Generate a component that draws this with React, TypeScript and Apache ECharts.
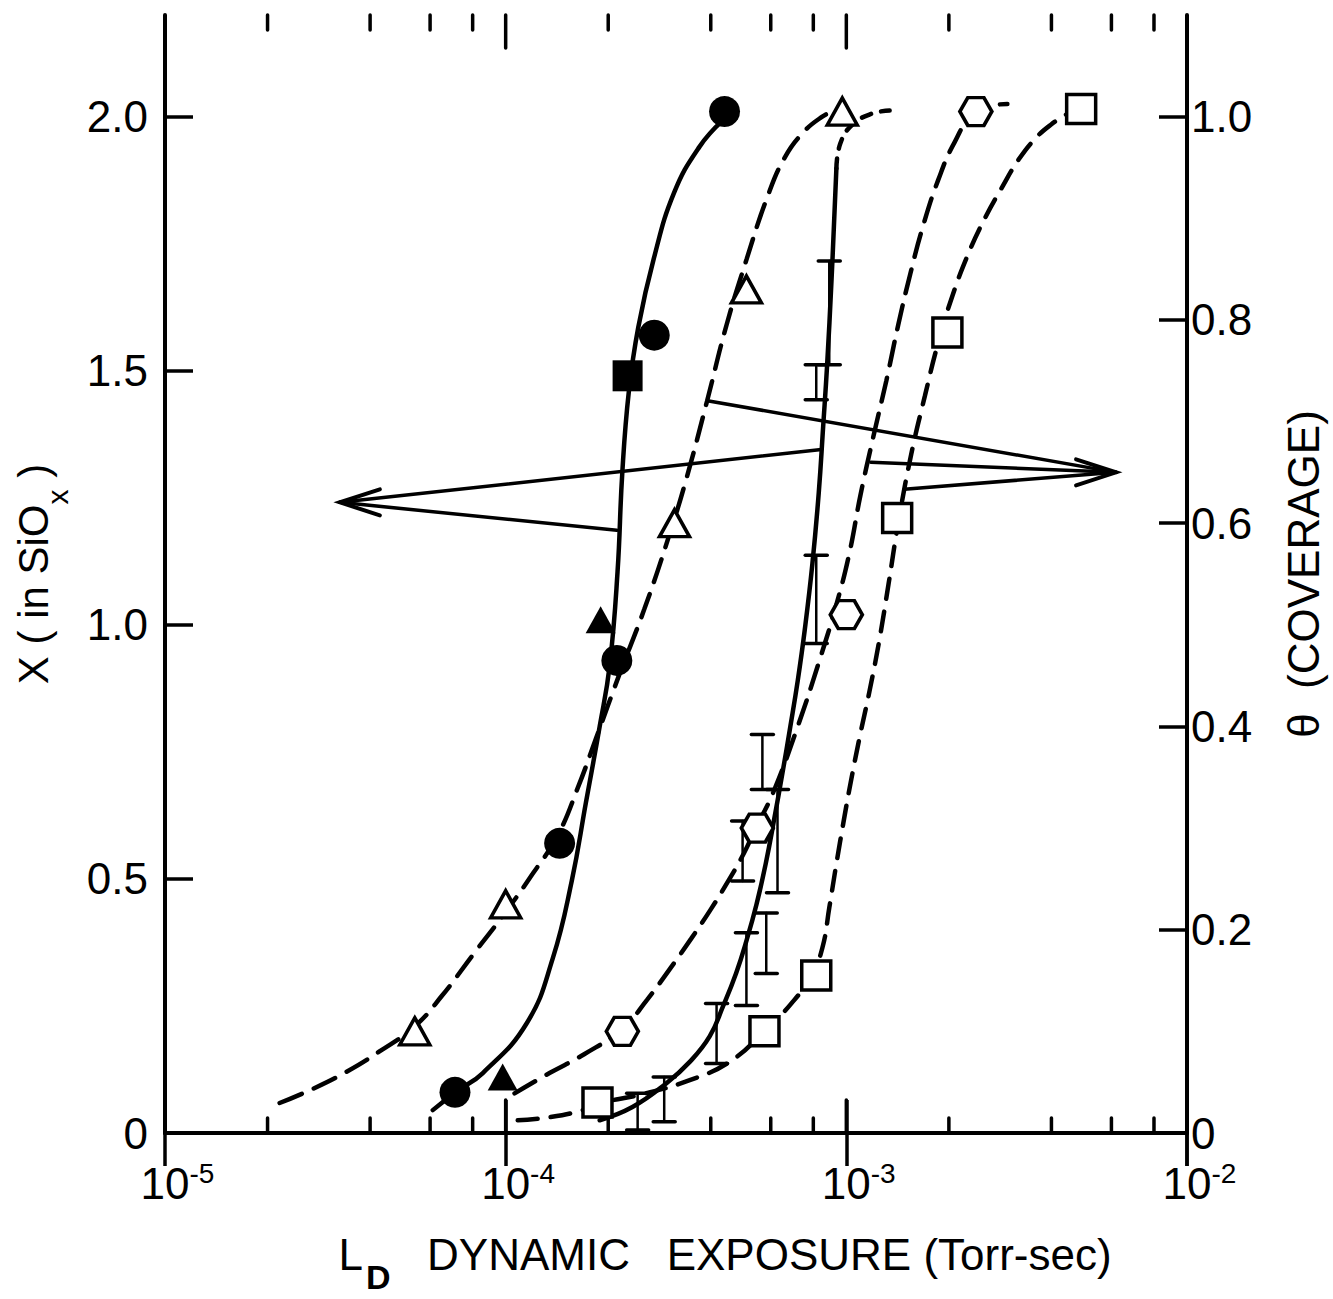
import React, { useEffect, useRef } from "react";
import * as echarts from "echarts";

// ---------- axes ----------
const xRange = [1e-5, 1e-2];
const xMajorTicks = [1e-4, 1e-3];
const xMinorTicks = [2e-5, 4e-5, 6e-5, 8e-5, 2e-4, 4e-4, 6e-4, 8e-4, 2e-3, 4e-3, 6e-3, 8e-3];
const leftRange = [0, 2.2];
const leftStep = 0.5;
const leftLabelMax = 2.0;
const rightRange = [0, 1.1];
const rightStep = 0.2;
const rightLabelMax = 1.0;

// ---------- measured points: [exposure (Torr-sec), x in SiOx] ----------
const filledCircles = [
  [7.1e-5, 0.08],
  [1.44e-4, 0.57],
  [2.12e-4, 0.93],
  [2.73e-4, 1.57],
  [4.39e-4, 2.01],
];
const filledSquares = [[2.28e-4, 1.49]];
const filledTriangles = [
  [9.8e-5, 0.11],
  [1.9e-4, 1.01],
];
const openTriangles = [
  [5.41e-5, 0.2],
  [1.0e-4, 0.45],
  [3.13e-4, 1.2],
  [5.09e-4, 1.66],
  [9.73e-4, 2.01],
];
const openHexagons = [
  [2.2e-4, 0.2],
  [5.48e-4, 0.6],
  [1.0e-3, 1.02],
  [2.4e-3, 2.01],
];
const openSquares = [
  [1.86e-4, 0.06],
  [5.75e-4, 0.2],
  [8.16e-4, 0.31],
  [1.41e-3, 1.21],
  [1.98e-3, 1.575],
  [4.89e-3, 2.015],
];

// error bars: [exposure, low, high]
const errorBars = [
  [2.44e-4, 0.006, 0.078],
  [2.92e-4, 0.022, 0.11],
  [4.16e-4, 0.137, 0.255],
  [4.96e-4, 0.496, 0.614],
  [5.09e-4, 0.251, 0.394],
  [5.67e-4, 0.676, 0.784],
  [5.82e-4, 0.314, 0.433],
  [6.28e-4, 0.473, 0.676],
  [8.16e-4, 0.963, 1.137],
  [8.16e-4, 1.443, 1.512],
  [8.91e-4, 1.512, 1.716],
];

// ---------- drawn curves ----------
const curveFilled = [
  [6.11e-5, 0.045], [7.18e-5, 0.082], [8.57e-5, 0.118], [1.153e-4, 0.216],
  [1.374e-4, 0.343], [1.563e-4, 0.496], [1.72e-4, 0.65],
  [1.888e-4, 0.8], [2.02e-4, 0.92], [2.13e-4, 1.104],
  [2.2e-4, 1.3], [2.3e-4, 1.46], [2.45e-4, 1.585],
  [2.72e-4, 1.72], [3.12e-4, 1.85], [3.7e-4, 1.94], [4.33e-4, 1.992],
];
const curveTriangles = [
  [2.17e-5, 0.059], [2.7e-5, 0.086], [3.4e-5, 0.12], [4.25e-5, 0.16],
  [5.41e-5, 0.21], [6.5e-5, 0.27], [8.0e-5, 0.35], [1.0e-4, 0.435],
  [1.2e-4, 0.51], [1.42e-4, 0.585], [1.63e-4, 0.68], [1.85e-4, 0.78],
  [2.15e-4, 0.9], [2.55e-4, 1.03], [3.0e-4, 1.17], [3.4e-4, 1.29],
  [3.9e-4, 1.44], [4.45e-4, 1.59], [5.1e-4, 1.72], [5.85e-4, 1.84],
  [6.6e-4, 1.92], [7.5e-4, 1.97], [8.5e-4, 2.0], [9.22e-4, 2.012],
];
const curveHexagons = [
  [1.062e-4, 0.078], [1.345e-4, 0.118], [1.7e-4, 0.155], [2.2e-4, 0.205],
  [2.6e-4, 0.262], [3.05e-4, 0.325], [3.5e-4, 0.382], [4.0e-4, 0.44],
  [4.54e-4, 0.5], [5.0e-4, 0.55], [5.48e-4, 0.606], [6.1e-4, 0.67],
  [7.2e-4, 0.8], [8.34e-4, 0.93], [9.35e-4, 1.04], [1.02e-3, 1.14],
  [1.1e-3, 1.255], [1.2e-3, 1.37], [1.31e-3, 1.48], [1.42e-3, 1.59],
  [1.54e-3, 1.69], [1.68e-3, 1.785], [1.86e-3, 1.875], [2.08e-3, 1.95],
  [2.4e-3, 2.01], [2.97e-3, 2.025],
];
const curveSquares = [
  [1.085e-4, 0.025], [1.345e-4, 0.031], [1.682e-4, 0.045], [1.862e-4, 0.058],
  [2.47e-4, 0.075], [3.47e-4, 0.104], [4.54e-4, 0.14], [5.75e-4, 0.2],
  [6.9e-4, 0.255], [7.9e-4, 0.31], [8.51e-4, 0.365], [8.91e-4, 0.443],
  [9.35e-4, 0.53], [9.8e-4, 0.61], [1.03e-3, 0.69], [1.095e-3, 0.78],
  [1.17e-3, 0.87], [1.25e-3, 0.97], [1.33e-3, 1.08], [1.42e-3, 1.2],
  [1.55e-3, 1.335], [1.7e-3, 1.45], [1.86e-3, 1.555],
  [2.05e-3, 1.648], [2.28e-3, 1.73], [2.55e-3, 1.8],
  [2.87e-3, 1.862], [3.2e-3, 1.915], [3.6e-3, 1.958],
  [4.0e-3, 1.985], [4.44e-3, 2.005],
];
const curveErrorBars = [
  [1.888e-4, 0.025], [2.356e-4, 0.051], [2.965e-4, 0.098], [3.47e-4, 0.14],
  [3.97e-4, 0.19], [4.35e-4, 0.25], [4.75e-4, 0.315], [5.1e-4, 0.38],
  [5.45e-4, 0.45], [5.8e-4, 0.53], [6.15e-4, 0.62], [6.5e-4, 0.71],
  [6.85e-4, 0.8], [7.2e-4, 0.89], [7.55e-4, 0.99], [7.95e-4, 1.12],
  [8.3e-4, 1.26], [8.55e-4, 1.39], [8.78e-4, 1.51], [9.05e-4, 1.68],
  [9.35e-4, 1.898],
];
const curveErrorBarsTop = [
  [9.35e-4, 1.898], [9.6e-4, 1.947], [1.04e-3, 1.984], [1.19e-3, 2.006], [1.34e-3, 2.012],
];

// ---------- annotation arrows (tip, then the points the shafts start from) ----------
const arrowTips = [
  [3.26e-5, 1.241],
  [6.19e-3, 1.3],
];
const arrowTails = [
  [[8.45e-4, 1.345], [2.12e-4, 1.186]],
  [[3.91e-4, 1.441], [1.18e-3, 1.32], [1.48e-3, 1.267]],
];

const FONT = '"Liberation Sans", Arial, sans-serif';
const INK = "#000";
const HEXAGON = "path://M0,10 L5.77,0 L17.32,0 L23.09,10 L17.32,20 L5.77,20 Z";

function curve(data: number[][], dash: any) {
  return {
    type: "line",
    data,
    symbol: "none",
    showSymbol: false,
    smooth: 0.45,
    silent: true,
    z: 2,
    lineStyle: { color: INK, width: 4.5, type: dash, cap: "round", opacity: 1 },
  };
}

function points(data: number[][], symbol: string, size: any, filled: boolean) {
  return {
    type: "scatter",
    data,
    symbol,
    symbolSize: size,
    silent: true,
    z: 6,
    itemStyle: filled
      ? { color: INK, borderColor: INK, borderWidth: 0, opacity: 1 }
      : { color: "#fff", borderColor: INK, borderWidth: 3.5, opacity: 1 },
  };
}

function buildOption() {
  const line = (a: number[], b: number[], w: number) => ({
    type: "line",
    shape: { x1: a[0], y1: a[1], x2: b[0], y2: b[1] },
    style: { stroke: INK, lineWidth: w, lineCap: "round" },
  });

  // tick marks along the bottom and top frame edges
  const frameTicks = (values: number[], len: number) => ({
    type: "custom",
    coordinateSystem: "cartesian2d",
    data: values.map((v) => [v, leftRange[0]]),
    encode: { x: 0, y: 1 },
    clip: false,
    silent: true,
    z: 3,
    renderItem: (_p: any, api: any) => {
      const v = api.value(0);
      const b = api.coord([v, leftRange[0]]);
      const t = api.coord([v, leftRange[1]]);
      return {
        type: "group",
        children: [line(b, [b[0], b[1] - len], 3.5), line(t, [t[0], t[1] + len], 3.5)],
      };
    },
  });

  return {
    animation: false,
    backgroundColor: "#fff",
    textStyle: { fontFamily: FONT, color: INK },
    grid: { left: 165, right: 145, top: 15, bottom: 158, containLabel: false },
    xAxis: [
      {
        type: "log",
        logBase: 10,
        min: xRange[0],
        max: xRange[1],
        position: "bottom",
        axisLine: { show: true, lineStyle: { color: INK, width: 4 } },
        axisTick: { show: true, inside: true, length: 33, lineStyle: { color: INK, width: 3.5 } },
        splitLine: { show: false },
        axisLabel: {
          margin: 26,
          formatter: (v: number) => {
            const e = Math.round(Math.log10(v));
            return `{h|${e}}{b|10}{s|${e}}`;
          },
          rich: {
            b: { fontFamily: FONT, fontSize: 44, lineHeight: 46, verticalAlign: "bottom", color: INK },
            s: { fontFamily: FONT, fontSize: 28, verticalAlign: "top", color: INK },
            h: { fontFamily: FONT, fontSize: 28, verticalAlign: "top", color: "rgba(0,0,0,0)" },
          },
        },
        name: "{l|L}{d|D}{t|   DYNAMIC   EXPOSURE (Torr-sec)}",
        nameLocation: "middle",
        nameGap: 99,
        nameTextStyle: {
          padding: [0, 0, 0, 98],
          rich: {
            l: { fontFamily: FONT, fontSize: 44, lineHeight: 50, verticalAlign: "top", color: INK },
            d: { fontFamily: FONT, fontSize: 34, fontWeight: "bold", lineHeight: 62, verticalAlign: "bottom", color: INK, padding: [0, 0, 0, 3] },
            t: { fontFamily: FONT, fontSize: 44, lineHeight: 50, verticalAlign: "top", color: INK },
          },
        },
      },
      {
        type: "log",
        logBase: 10,
        min: xRange[0],
        max: xRange[1],
        position: "top",
        axisLine: { show: true, lineStyle: { color: INK, width: 4 } },
        axisTick: { show: true, inside: true, length: 33, lineStyle: { color: INK, width: 3.5 } },
        axisLabel: { show: false },
        splitLine: { show: false },
      },
    ],
    yAxis: [
      {
        type: "value",
        min: leftRange[0],
        max: leftRange[1],
        interval: leftStep,
        position: "left",
        axisLine: { show: true, lineStyle: { color: INK, width: 4 } },
        axisTick: { show: true, inside: true, length: 28, lineStyle: { color: INK, width: 3.5 } },
        splitLine: { show: false },
        axisLabel: {
          margin: 17,
          fontFamily: FONT,
          fontSize: 44,
          color: INK,
          showMaxLabel: false,
          formatter: (v: number) => (v > leftLabelMax + 1e-9 ? "" : v === 0 ? "0" : v.toFixed(1)),
        },
        name: "{m|X ( in SiO}{x|x}{m| )}",
        nameLocation: "middle",
        nameRotate: 90,
        nameGap: 93,
        nameTextStyle: {
          rich: {
            m: { fontFamily: FONT, fontSize: 42, lineHeight: 46, verticalAlign: "top", color: INK },
            x: { fontFamily: FONT, fontSize: 30, lineHeight: 60, verticalAlign: "bottom", color: INK },
          },
        },
      },
      {
        type: "value",
        min: rightRange[0],
        max: rightRange[1],
        interval: rightStep,
        position: "right",
        axisLine: { show: true, lineStyle: { color: INK, width: 4 } },
        axisTick: { show: true, inside: true, length: 28, lineStyle: { color: INK, width: 3.5 } },
        splitLine: { show: false },
        axisLabel: {
          margin: 4,
          fontFamily: FONT,
          fontSize: 44,
          color: INK,
          showMaxLabel: false,
          formatter: (v: number) => (v > rightLabelMax + 1e-9 ? "" : v === 0 ? "0" : v.toFixed(1)),
        },
        name: "θ  (COVERAGE)",
        nameLocation: "middle",
        nameRotate: 90,
        nameGap: 94,
        nameTextStyle: { fontFamily: FONT, fontSize: 44, color: INK },
      },
    ],
    series: [
      curve(curveFilled, "solid"),
      curve(curveTriangles, [24, 13]),
      curve(curveHexagons, [24, 13]),
      curve(curveSquares, [20, 13]),
      curve(curveErrorBars, "solid"),
      curve(curveErrorBarsTop, [10, 10]),
      {
        type: "custom",
        coordinateSystem: "cartesian2d",
        data: errorBars,
        encode: { x: 0, y: [1, 2] },
        clip: false,
        silent: true,
        z: 4,
        renderItem: (_p: any, api: any) => {
          const x = api.value(0);
          const hi = api.coord([x, api.value(2)]);
          const lo = api.coord([x, api.value(1)]);
          const half = 11;
          return {
            type: "group",
            children: [
              line(hi, lo, 2.5),
              line([hi[0] - half, hi[1]], [hi[0] + half, hi[1]], 3.5),
              line([lo[0] - half, lo[1]], [lo[0] + half, lo[1]], 3.5),
            ],
          };
        },
      },
      frameTicks(xMinorTicks, 15),
      frameTicks(xMajorTicks, 33),
      {
        type: "custom",
        coordinateSystem: "cartesian2d",
        data: arrowTips,
        encode: { x: 0, y: 1 },
        clip: false,
        silent: true,
        z: 3,
        renderItem: (p: any, api: any) => {
          const tip = api.coord(arrowTips[p.dataIndex]);
          const tails = arrowTails[p.dataIndex].map((d) => api.coord(d));
          const mean = tails.reduce((s, q) => s + q[0], 0) / tails.length;
          const dir = mean > tip[0] ? 1 : -1;
          const children: any[] = tails.map((q) => line(q, tip, 3.5));
          children.push({
            type: "polyline",
            shape: { points: [[tip[0] + dir * 40, tip[1] - 13], tip, [tip[0] + dir * 40, tip[1] + 13]] },
            style: { stroke: INK, lineWidth: 4, fill: "none", lineJoin: "miter", lineCap: "round" },
          });
          return { type: "group", children };
        },
      },
      points(filledCircles, "circle", 31, true),
      points(filledSquares, "rect", [30, 31], true),
      points(filledTriangles, "triangle", [30, 27], true),
      points(openTriangles, "triangle", [30, 27], false),
      points(openHexagons, HEXAGON, [32, 28], false),
      points(openSquares, "rect", [29, 29], false),
    ],
  };
}

export default function App() {
  const ref = useRef<HTMLDivElement>(null);
  useEffect(() => {
    document.body.style.margin = "0";
    const chart = echarts.init(ref.current as HTMLDivElement, null, { renderer: "svg" });
    chart.setOption(buildOption() as any);
    return () => chart.dispose();
  }, []);
  return <div ref={ref} style={{ width: 1333, height: 1299, background: "#fff" }} />;
}
